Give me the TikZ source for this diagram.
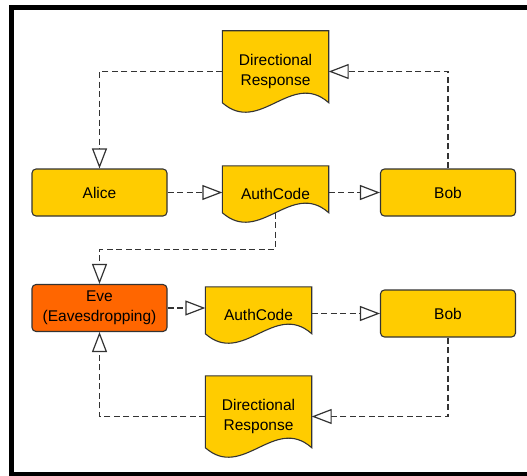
\documentclass[tikz,border=0pt]{standalone}
\usepackage{fontspec}
\setmainfont{Liberation Sans}
\usetikzlibrary{positioning, calc, backgrounds}
\usetikzlibrary{arrows, arrows.meta}
\definecolor{myyellow}{HTML}{FFCC00}
\definecolor{myorange}{HTML}{FF6600}
\colorlet{myline}{black!80}
\tikzset{ % node and line styles
  my nodes/.style={align=center,text=black,font=\fontsize{15.5}{20}\selectfont},
  actor/.style={my nodes,draw=myline,line width=1.1pt,rounded corners=4pt,fill=myyellow,
                minimum width=135pt,minimum height=47pt},
  spy/.style={actor,fill=myorange},
  doc/.style={my nodes,minimum width=106pt,minimum height=#1,inner sep=0pt},
  doc line/.style={draw=myline,line width=1.1pt,fill=myyellow},
  flow/.style={myline,line width=1.2pt,dash pattern=on 6pt off 3.5pt,
               -{Triangle[open,length=20pt,width=15pt,fill=white]}}
}

\begin{document}
\begin{tikzpicture}[x=1pt,y=-1pt]
\path[use as bounding box,clip] (0,0) rectangle (527,476);

% actors
\node[actor] (alice) at (99.5,192.5) {Alice};
\node[actor] (bob1)  at (448,192.5)  {Bob};
\node[spy]   (eve)   at (99.5,308)   {Eve\\(Eavesdropping)};
\node[actor] (bob2)  at (448,313.5)  {Bob};

% documents
\node[doc=81pt] (resp1) at (275.5,71.5) {Directional\\Response};
\node[doc=56pt] (code1) at (275.5,194)  {AuthCode};
\node[doc=56pt] (code2) at (258.5,315)  {AuthCode};
\node[doc=81pt] (resp2) at (258.5,416.5) {Directional\\Response};

\begin{scope}[on background layer]
\foreach\n in {resp1,code1,code2,resp2}
  \draw[doc line] (\n.north west) -- (\n.north east) -- ([yshift=9.5pt]\n.south east)
    .. controls ($(\n.south west)!0.65!(\n.south east)+(0pt,42.5pt)$)
            and ($(\n.south west)!0.35!(\n.south east)+(0pt,-23.5pt)$)
    .. ([yshift=9.5pt]\n.south west) -- cycle;
\end{scope}

% connections
\draw[flow] (resp1.west) -| (alice.north);
\draw[flow] (bob1.north) |- (resp1.east);
\draw[flow] (alice.east) -- (alice.east -| code1.west);
\draw[flow] (bob1.west -| code1.east) -- (bob1.west);
\draw[flow] ([yshift=9.5pt]code1.south) -- ++(0,36.5) -| (eve.north);
\draw[flow] (eve.east) -- (eve.east -| code2.west);
\draw[flow] (bob2.west -| code2.east) -- (bob2.west);
\draw[flow] (bob2.south) |- (resp2.east);
\draw[flow] (resp2.west) -| (eve.south);

% frame
\draw[line width=5pt] (11.5,7.5) rectangle (545,474.5);
\end{tikzpicture}
\end{document}
